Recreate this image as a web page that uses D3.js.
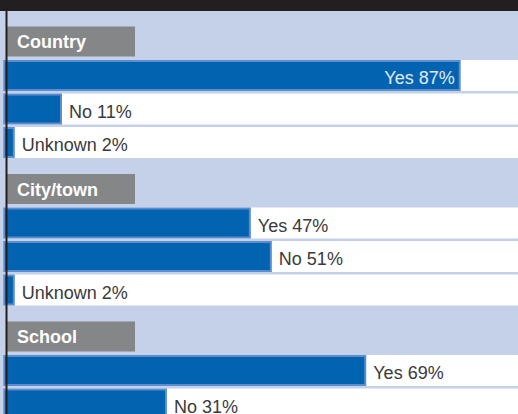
<!DOCTYPE html>
<html lang="en">
<head>
  <meta charset="UTF-8">
  <title>Survey bars</title>
  <script src="https://cdn.jsdelivr.net/npm/d3@7"></script>
  <style>
    body { margin: 0; }
    svg { display: block; font-family: "Liberation Sans", Arial, sans-serif; }
  </style>
</head>
<body>
<svg></svg>
<script>
  const categories = ['Country', 'City/town', 'School']
  const answers = ['Yes', 'No', 'Unknown']
  const yesValues = [87, 47, 69]
  const noValues = [11, 51, 31]
  const unknownValues = [2, 2, 0]

  const width = 518, height = 414

  const svg = d3.select('svg')
      .attr('width', width)
      .attr('height', height)
      .attr('viewBox', [0, 0, width, height])

  const rows = categories.flatMap((c, i) => [
    {cat: c, answer: 'Yes', value: yesValues[i]},
    {cat: c, answer: 'No', value: noValues[i]},
    {cat: c, answer: 'Unknown', value: unknownValues[i]}
  ])

  // x: percent -> pixels
  const x = d3.scaleLinear()
      .domain([0, 100])
      .range([4.3, 528.9])

  // one band per category block
  const yGroup = d3.scaleBand()
      .domain(categories)
      .range([26, 26 + 147.5 * categories.length])

  // header + answer rows inside a block
  const yRow = d3.scaleBand()
      .domain(['header', ...answers])
      .range([0.5, 132])
      .paddingInner(0.075)

  const rowTop = d => yGroup(d.cat) + yRow(d.answer)
  const rowH = yRow.bandwidth()

  // only rows that start inside the picture
  const shown = rows.filter(d => rowTop(d) < height)

  // background
  svg.append('rect')
      .attr('width', width)
      .attr('height', height)
      .attr('fill', '#c5d1e8')

  // white row strips
  svg.append('g')
      .selectAll('rect')
      .data(shown)
      .join('rect')
      .attr('x', 7)
      .attr('y', rowTop)
      .attr('width', width - 7)
      .attr('height', rowH)
      .attr('fill', '#fff')

  // bars
  svg.append('g')
      .selectAll('rect')
      .data(shown.filter(d => d.value > 0))
      .join('rect')
      .attr('x', x(0))
      .attr('y', d => rowTop(d) + 1)
      .attr('width', d => x(d.value) - x(0) - 1)
      .attr('height', rowH - 2)
      .attr('fill', '#0263b1')
      .attr('stroke', '#5d8dcd')
      .attr('stroke-width', 2)

  // labels
  svg.append('g')
      .selectAll('text')
      .data(shown)
      .join('text')
      .attr('y', d => rowTop(d) + 24)
      .attr('font-size', 18)
      .text(d => `${d.answer} ${d.value}%`)
      .each(function (d) {
        const t = d3.select(this)
        const w = this.getComputedTextLength()
        if (x(d.value) + 7 + w > width - 4) {
          t.attr('x', x(d.value) - 6).attr('text-anchor', 'end').attr('fill', '#e2e9f5')
        } else {
          t.attr('x', x(d.value) + 7).attr('fill', '#3a3a3a')
        }
      })

  // category headers
  const head = svg.append('g')
      .selectAll('g')
      .data(categories)
      .join('g')
      .attr('transform', d => `translate(0,${yGroup(d) + yRow('header')})`)

  head.append('rect')
      .attr('x', 7)
      .attr('width', 128)
      .attr('height', yRow.bandwidth() - 1)
      .attr('fill', '#858688')

  head.append('text')
      .attr('x', 17)
      .attr('y', 21.5)
      .attr('font-size', 18)
      .attr('font-weight', 'bold')
      .attr('fill', '#fff')
      .text(d => d)

  // top band and left rule
  svg.append('rect')
      .attr('width', width)
      .attr('height', 11)
      .attr('fill', '#231f20')

  svg.append('rect')
      .attr('x', 5.5)
      .attr('width', 2)
      .attr('height', height)
      .attr('fill', '#231f20')
</script>
</body>
</html>
